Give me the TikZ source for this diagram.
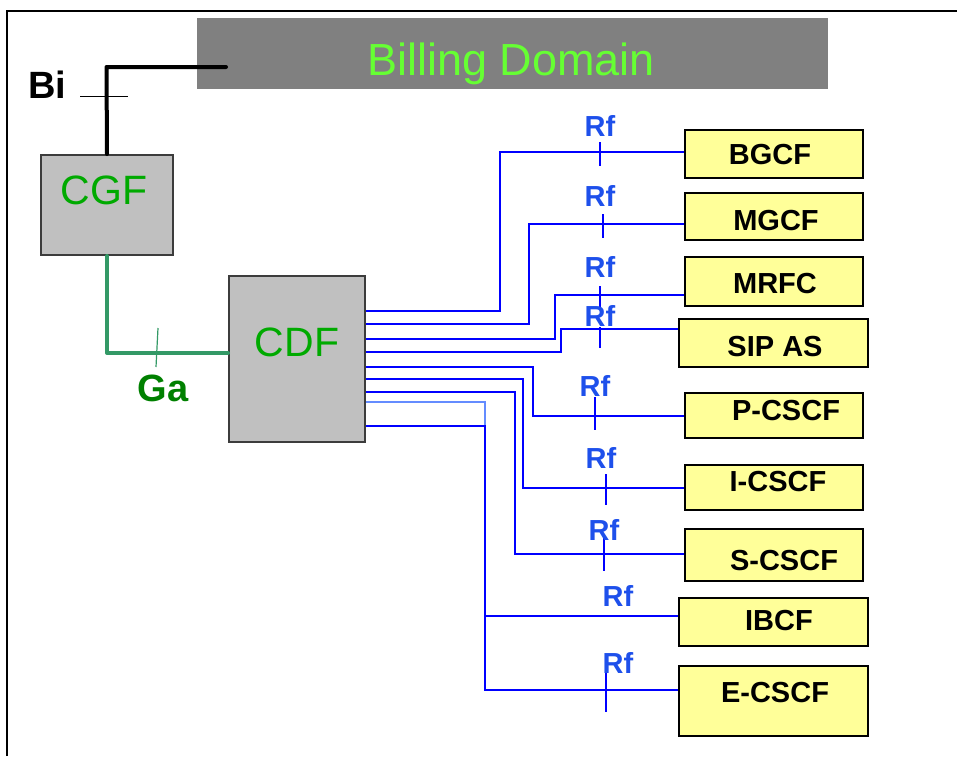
\documentclass[tikz,border=0pt]{standalone}
\usepackage{fontspec}
\setmainfont{Liberation Sans}
\definecolor{rfblue}{RGB}{30,80,235}
\definecolor{lineblue}{RGB}{0,0,255}
\definecolor{lightblue}{RGB}{100,140,255}
\definecolor{gaLine}{RGB}{51,153,102}
\definecolor{gaText}{RGB}{0,128,0}
\definecolor{fnText}{RGB}{0,170,0}
\definecolor{billText}{RGB}{102,255,51}
\definecolor{ybox}{RGB}{255,255,153}
\definecolor{gbox}{RGB}{192,192,192}
\definecolor{bbox}{RGB}{128,128,128}
\tikzset{
  yellowbox/.style={rectangle, draw=black, line width=2, fill=ybox, inner sep=0},
  greybox/.style={rectangle, draw={rgb,255:red,60;green,60;blue,60}, line width=2, fill=gbox, inner sep=0},
  boxlabel/.style={anchor=base, inner sep=0, font=\bfseries\fontsize{29}{29}\selectfont},
  rflabel/.style={anchor=base, inner sep=0, text=rfblue, font=\bfseries\fontsize{29}{29}\selectfont},
  fnlabel/.style={anchor=base, inner sep=0, text=fnText, font=\fontsize{41}{41}\selectfont},
  rf/.style={draw=lineblue, line width=2},
  rftick/.style={draw=lineblue, line width=1.3},
}
\begin{document}
\begin{tikzpicture}[x=1pt,y=-1pt]
\useasboundingbox (0,0) rectangle (957,756);
% frame
\draw[line width=2] (7,756) -- (7,11) -- (957,11);
% billing domain
\node[rectangle, fill=bbox, inner sep=0, minimum width=631, minimum height=71] (BD) at (512.5,53.5) {};
\node[anchor=base, inner sep=0, text=billText, font=\fontsize{45}{45}\selectfont] (BDt) at (511,75) {Billing Domain};
% grey boxes
\node[greybox, minimum width=132, minimum height=100] (CGF) at (107,205) {};
\node[fnlabel] (CGFt) at (104,204) {CGF};
\node[greybox, minimum width=136, minimum height=166] (CDF) at (297,358.5) {};
\node[fnlabel] (CDFt) at (297,356) {CDF};
% yellow boxes
\node[yellowbox, minimum width=178, minimum height=48] (BGCF) at (774,154) {};
\node[yellowbox, minimum width=178, minimum height=47] (MGCF) at (774,216.5) {};
\node[yellowbox, minimum width=178, minimum height=49] (MRFC) at (774,281.5) {};
\node[yellowbox, minimum width=189, minimum height=48] (SIPAS) at (773.5,343) {};
\node[yellowbox, minimum width=178, minimum height=45] (PCSCF) at (774,415.5) {};
\node[yellowbox, minimum width=178, minimum height=45] (ICSCF) at (774,487.5) {};
\node[yellowbox, minimum width=178, minimum height=52] (SCSCF) at (774,555) {};
\node[yellowbox, minimum width=189, minimum height=48] (IBCF) at (773.5,622) {};
\node[yellowbox, minimum width=189, minimum height=70] (ECSCF) at (773.5,701) {};
\node[boxlabel] (BGCFt) at (770,164) {BGCF};
\node[boxlabel] (MGCFt) at (776,230.5) {MGCF};
\node[boxlabel] (MRFCt) at (775,293) {MRFC};
\node[boxlabel] (SIPASt) at (775,356.5) {SIP AS};
\node[boxlabel] (PCSCFt) at (786,420) {P-CSCF};
\node[boxlabel] (ICSCFt) at (778,491) {I-CSCF};
\node[boxlabel] (SCSCFt) at (784,570) {S-CSCF};
\node[boxlabel] (IBCFt) at (779,630.5) {IBCF};
\node[boxlabel] (ECSCFt) at (775,702) {E-CSCF};
% Bi interface
\coordinate (biStart) at (226,67);
\draw[line width=4, line cap=round, line join=round] (biStart) -- (106.5,67) -- (CGF.north);
\draw[line width=1] (80,96) -- (128,96);
\node[anchor=base, inner sep=0, font=\bfseries\fontsize{38}{38}\selectfont] (Bi) at (47,98) {Bi};
% Ga interface
\draw[gaLine, line width=4, line cap=round, line join=round] (CGF.south) |- (CDF.west |- 0,353);
\draw[gaLine, line width=1.2] (158,328) -- (156,367);
\node[anchor=base, inner sep=0, text=gaText, font=\bfseries\fontsize{38}{38}\selectfont] (Ga) at (163,401) {Ga};
% Rf connectors
\draw[rf] (CDF.east |- 0,311) -- (500,311) |- (BGCF.west |- 0,152);
\draw[rf] (CDF.east |- 0,324) -- (529,324) |- (MGCF.west |- 0,224);
\draw[rf] (CDF.east |- 0,339) -- (555,339) |- (MRFC.west |- 0,295);
\draw[rf] (CDF.east |- 0,352) -- (561,352) |- (SIPAS.west |- 0,329);
\draw[rf] (CDF.east |- 0,367) -- (533,367) |- (PCSCF.west |- 0,416);
\draw[rf] (CDF.east |- 0,379) -- (523,379) |- (ICSCF.west |- 0,488);
\draw[rf] (CDF.east |- 0,392) -- (515,392) |- (SCSCF.west |- 0,554);
\draw[draw=lightblue, line width=2] (CDF.east |- 0,402) -- (485,402) -- (485,426);
\coordinate (branch) at (485,616);
\draw[rf] (CDF.east |- 0,426) -- (485,426) |- (ECSCF.west |- 0,690);
\draw[rf] (branch) -- (IBCF.west |- branch);
% Rf ticks
\draw[rftick] (600,142) -- (600,166);
\draw[rftick] (603,214) -- (603,238);
\draw[rftick] (600,286) -- (600,307);
\draw[rftick] (600,327) -- (600,348);
\draw[rftick] (595,397) -- (595,430);
\draw[rftick] (606,474) -- (606,505);
\draw[rftick] (604,538) -- (604,571);
\draw[rftick] (606,673) -- (606,712);
% Rf labels
\node[rflabel] (rf1) at (600,136) {Rf};
\node[rflabel] (rf2) at (600,206.5) {Rf};
\node[rflabel] (rf3) at (600,277.5) {Rf};
\node[rflabel] (rf4) at (600,326) {Rf};
\node[rflabel] (rf5) at (595,396.5) {Rf};
\node[rflabel] (rf6) at (601,468) {Rf};
\node[rflabel] (rf7) at (604,540) {Rf};
\node[rflabel] (rf8) at (618,606.5) {Rf};
\node[rflabel] (rf9) at (618,673) {Rf};
\end{tikzpicture}
\end{document}
